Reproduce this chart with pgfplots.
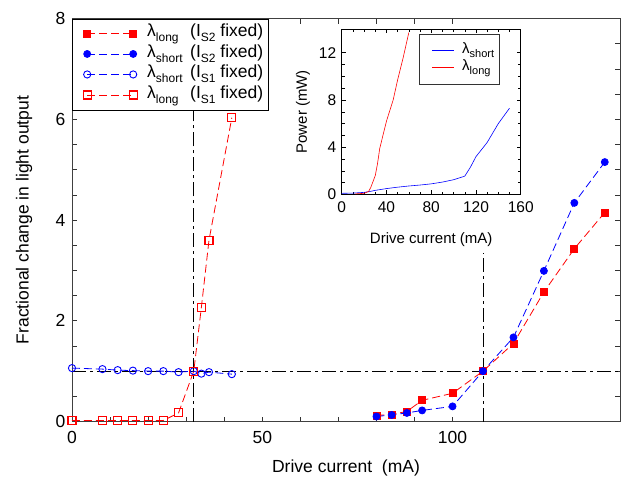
\documentclass[border=0pt]{standalone}
\usepackage{fontspec}
\setmainfont{Liberation Sans}
\usepackage{pgfplots}
\pgfplotsset{compat=1.18}
\newcommand{\sub}[1]{\raisebox{-5pt}{\fontsize{12}{12}\selectfont #1}}
\newcommand{\isub}[1]{\raisebox{-4pt}{\fontsize{11}{11}\selectfont #1}}
\definecolor{mred}{RGB}{255,0,0}
\definecolor{mblue}{RGB}{0,0,255}
\tikzset{
  dashdot/.style={black, line width=0.7pt, dash pattern=on 14pt off 4pt on 3pt off 4pt},
  serdash/.style={line width=0.8pt, dash pattern=on 8pt off 4pt},
}
\begin{document}
\begin{tikzpicture}
\path[use as bounding box] (-72pt,-63.5pt) rectangle (549pt,421.5pt);
\begin{axis}[
  at={(0pt,0pt)}, anchor=south west,
  scale only axis, width=548pt, height=403pt,
  xmin=0, xmax=144, ymin=0, ymax=8,
  xtick={0,50,100}, ytick={0,2,4,6,8},
  minor x tick num=4, minor y tick num=3,
  tick align=inside, major tick length=5pt, minor tick length=5pt,
  tick style={black!80, line width=0.6pt},
  axis line style={black!75, line width=0.9pt},
  /pgf/number format/assume math mode=true,
  tick label style={font=\fontsize{17.5}{18}\selectfont},
  x tick label style={yshift=-6pt},
  y tick label style={xshift=-3pt},
  label style={font=\fontsize{17.5}{18}\selectfont},
  xlabel={Drive current\ \ (mA)},
  xlabel style={at={(axis description cs:0.5,-0.1154)}, anchor=center},
  ylabel={Fractional change in light output},
  ylabel style={at={(axis description cs:-0.0876,0.5)}, anchor=center},
  legend style={at={(0,1)}, anchor=north west, draw=black,
    fill=white, font=\fontsize{17.5}{18}\selectfont, inner xsep=3pt, inner ysep=4.5pt,
    row sep=0pt, nodes={inner ysep=0.5pt, text height=13pt, text depth=6.5pt}},
  legend cell align=left,
  legend image code/.code={%
    \path[draw=none, fill=none] (-12pt,0pt) -- (58pt,0pt);
    \draw[#1] plot coordinates {(0pt,0pt) (46pt,0pt)};},
]
\addplot[dashdot, forget plot] coordinates {(0,1) (144,1)};
\addplot[dashdot, forget plot] coordinates {(31.8,0) (31.8,8)};
\addplot[dashdot, forget plot] coordinates {(108,0) (108,3.35)};

\addplot[mred, serdash, mark=square*, mark size=3.5pt,
  mark options={solid, fill=mred}]
  coordinates {(80,0.12) (84,0.14) (88,0.20) (92,0.42) (100,0.56) (108,1.0)
               (116,1.55) (124,2.57) (132,3.43) (140,4.15)};
\addlegendentry{\makebox[43pt][l]{λ\sub{long}}(I\sub{S2} fixed)}

\addplot[mblue, serdash, mark=*, mark size=3.5pt,
  mark options={solid, fill=mblue}]
  coordinates {(80,0.10) (84,0.13) (88,0.17) (92,0.22) (100,0.30) (108,1.0)
               (116,1.67) (124,2.99) (132,4.34) (140,5.15)};
\addlegendentry{\makebox[43pt][l]{λ\sub{short}}(I\sub{S2} fixed)}

\addplot[mblue, serdash, mark=o, mark size=3.6pt,
  mark options={solid, line width=0.9pt}]
  coordinates {(0,1.06) (8,1.04) (12,1.02) (16,1.01) (20,1.00) (24,1.00) (28,0.98)
               (32,1.00) (34,0.95) (36,0.98) (42,0.94)};
\addlegendentry{\makebox[43pt][l]{λ\sub{short}}(I\sub{S1} fixed)}

\addplot[mred, serdash, mark=square, mark size=4pt,
  mark options={solid, line width=1.1pt}]
  coordinates {(0,0.02) (8,0.02) (12,0.02) (16,0.02) (20,0.02) (24,0.02) (28,0.17)
               (32,1.0) (34,2.27) (36,3.6) (42,6.03)};
\addlegendentry{\makebox[43pt][l]{λ\sub{long}}(I\sub{S1} fixed)}
\end{axis}

\begin{axis}[
  at={(269.7pt,227pt)}, anchor=south west,
  scale only axis, width=179pt, height=165.5pt,
  xmin=0, xmax=160, ymin=0, ymax=14,
  xtick={0,40,80,120,160}, ytick={0,4,8,12},
  minor x tick num=3, minor y tick num=3,
  tick align=inside, major tick length=4pt, minor tick length=3pt,
  tick style={black, line width=0.5pt},
  axis line style={black, line width=0.7pt},
  axis background/.style={fill=white},
  /pgf/number format/assume math mode=true,
  tick label style={font=\fontsize{15.5}{16}\selectfont},
  x tick label style={yshift=-4pt},
  y tick label style={xshift=-2pt},
  label style={font=\fontsize{15}{16}\selectfont},
  xlabel={Drive current (mA)},
  xlabel style={at={(axis description cs:0.5,-0.275)}, anchor=center},
  ylabel={Power (mW)},
  ylabel style={at={(axis description cs:-0.216,0.5)}, anchor=center},
  legend style={at={(0.432,0.97)}, anchor=north west, draw=black!80,
    fill=white, font=\fontsize{15}{16}\selectfont, inner xsep=3pt, inner ysep=8pt,
    row sep=0pt, nodes={inner ysep=0.5pt, text height=11pt, text depth=5pt}},
  legend cell align=left,
  legend image code/.code={%
    \path[draw=none, fill=none] (-10pt,0pt) -- (28pt,0pt);
    \draw[#1] (0pt,0pt) -- (22pt,0pt);},
]
\addplot[mblue, line width=0.6pt] coordinates {
  (0,0.1) (10,0.12) (20,0.18) (25,0.25) (30,0.35) (40,0.5) (50,0.62) (60,0.72)
  (70,0.8) (80,0.9) (90,1.05) (100,1.25) (110,1.55) (115,2.3) (120,3.2)
  (130,4.4) (140,6.0) (150,7.3)};
\addlegendentry{λ\isub{short}}
\addplot[mred, line width=0.6pt] coordinates {
  (12,0.05) (20,0.1) (24,0.25) (26,0.6) (28,1.1) (30,1.6) (32,2.6) (34,3.9)
  (40,6.2) (46,8.0) (50,9.7) (55,11.6) (60,13.7)};
\addlegendentry{λ\isub{long}}
\draw[black, line width=2pt] (rel axis cs:0,1) -- (rel axis cs:1,1);
\end{axis}
\end{tikzpicture}
\end{document}
